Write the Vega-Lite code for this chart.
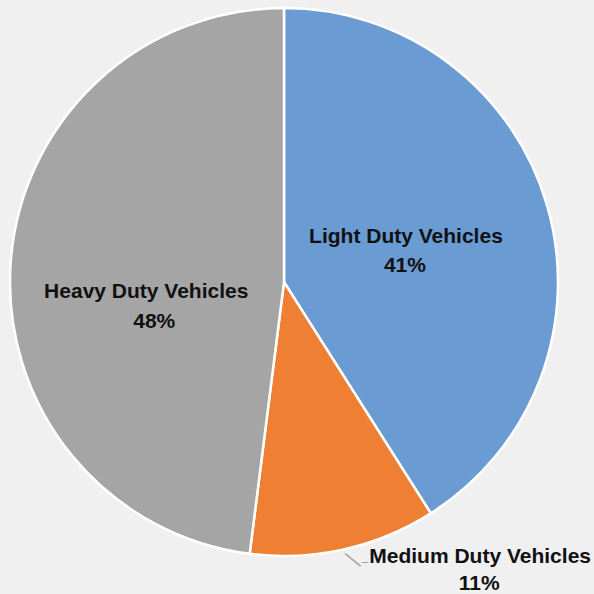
{
  "$schema": "https://vega.github.io/schema/vega-lite/v6.json",
  "autosize": {"type": "none"},
  "width": 548,
  "height": 548,
  "padding": {"left": 10, "top": 8, "right": 36, "bottom": 38},
  "background": "#f0f0f0",
  "config": {"view": {"stroke": null}, "text": {"font": "Liberation Sans", "fontWeight": "bold", "fontSize": 21, "color": "#111111"}},
  "data": {"values": [
    {"category": "Light Duty Vehicles", "value": 41, "pct": "41%", "seq": 1},
    {"category": "Medium Duty Vehicles", "value": 11, "pct": "11%", "seq": 2},
    {"category": "Heavy Duty Vehicles", "value": 48, "pct": "48%", "seq": 3}
  ]},
  "encoding": {
    "theta": {"field": "value", "type": "quantitative", "stack": true},
    "order": {"field": "seq", "type": "quantitative"}
  },
  "layer": [
    {
      "mark": {"type": "arc", "outerRadius": 274, "stroke": "#ffffff", "strokeWidth": 2.5},
      "encoding": {
        "color": {"field": "category", "type": "nominal", "legend": null,
          "scale": {"domain": ["Light Duty Vehicles", "Medium Duty Vehicles", "Heavy Duty Vehicles"], "range": ["#6a9bd3", "#ee7f33", "#a5a5a5"]}}
      }
    },
    {
      "mark": {"type": "text", "radius": 127, "dy": -10},
      "encoding": {"text": {"condition": {"test": "datum.category === 'Light Duty Vehicles'", "field": "category"}, "value": ""}}
    },
    {
      "mark": {"type": "text", "radius": 127, "dy": 19, "dx": -1},
      "encoding": {"text": {"condition": {"test": "datum.category === 'Light Duty Vehicles'", "field": "pct"}, "value": ""}}
    },
    {
      "mark": {"type": "text", "radius": 134, "dy": 18, "dx": -4},
      "encoding": {"text": {"condition": {"test": "datum.category === 'Heavy Duty Vehicles'", "field": "category"}, "value": ""}}
    },
    {
      "mark": {"type": "text", "radius": 134, "dy": 48, "dx": 4},
      "encoding": {"text": {"condition": {"test": "datum.category === 'Heavy Duty Vehicles'", "field": "pct"}, "value": ""}}
    },
    {
      "mark": {"type": "text", "radius": 290, "dy": -8, "dx": 22, "align": "left"},
      "encoding": {"text": {"condition": {"test": "datum.category === 'Medium Duty Vehicles'", "field": "category"}, "value": ""}}
    },
    {
      "mark": {"type": "text", "radius": 290, "dy": 19, "dx": 132},
      "encoding": {"text": {"condition": {"test": "datum.category === 'Medium Duty Vehicles'", "field": "pct"}, "value": ""}}
    },
    {
      "mark": {"type": "text", "radius": 283, "dx": 6.5, "dy": -4, "angle": 39, "fontWeight": "normal", "fontSize": 20, "color": "#a0a0a0"},
      "encoding": {"text": {"condition": {"test": "datum.category === 'Medium Duty Vehicles'", "value": "\u2014"}, "value": ""}}
    },
    {
      "mark": {"type": "text", "radius": 283, "dx": 16, "dy": 4, "align": "left", "fontWeight": "normal", "fontSize": 12, "color": "#a0a0a0"},
      "encoding": {"text": {"condition": {"test": "datum.category === 'Medium Duty Vehicles'", "value": "\u2013"}, "value": ""}}
    }
  ]
}
